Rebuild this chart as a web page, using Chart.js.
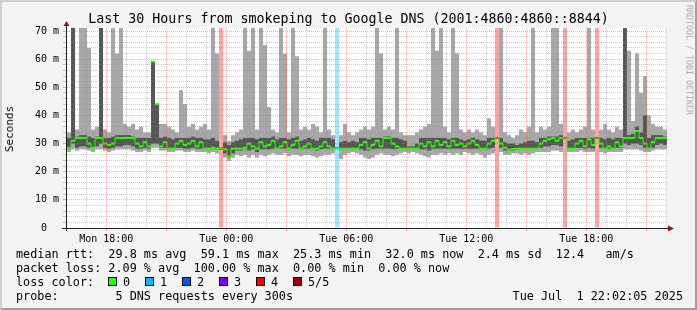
<!DOCTYPE html>
<html lang="en">
<head>
<meta charset="UTF-8">
<title>Last 30 Hours from smokeping to Google DNS</title>
<style>
  body { margin: 0; background: #f3f3f3; font-family: 'DejaVu Sans Mono', monospace; }
  #wrap { position: relative; width: 697px; height: 310px; overflow: hidden; }
  #frame { position: absolute; left: 0; top: 0; width: 697px; height: 310px; box-sizing: border-box;
           border: 2px solid; border-color: #cfcfcf #9e9e9e #9e9e9e #cfcfcf; pointer-events: none; }
  canvas { position: absolute; left: 0; top: 0; }
  .txt { position: absolute; white-space: pre; color: #000; }
  #title { left: 0; width: 697px; top: 11px; text-align: center; font-size: 13.3px; line-height: 16px; }
  #ylab { left: 10px; top: 129px; font-size: 11px; line-height: 12px; transform: translate(-50%, -50%) rotate(-90deg); }
  #credit { left: 689px; top: 60px; font-size: 8.3px; line-height: 9px; color: #a8a8a8; transform: translate(-50%, -50%) rotate(90deg); }
  .leg { font-size: 11.8px; line-height: 14px; }
  .box { position: absolute; width: 7px; height: 7px; border: 1px solid #000; top: 277px; }
</style>
</head>
<body>
<div id="wrap">
  <canvas id="chart" width="697" height="310"></canvas>
  <div id="title" class="txt">Last 30 Hours from smokeping to Google DNS (2001:4860:4860::8844)</div>
  <div id="ylab" class="txt">Seconds</div>
  <div id="credit" class="txt">RRDTOOL / TOBI OETIKER</div>
  <div class="txt leg" style="left:16px; top:247px">median rtt:  29.8 ms avg  59.1 ms max  25.3 ms min  32.0 ms now  2.4 ms sd  12.4   am/s</div>
  <div class="txt leg" style="left:16px; top:261px">packet loss: 2.09 % avg  100.00 % max  0.00 % min  0.00 % now</div>
  <div class="txt leg" style="left:16px; top:275px">loss color:</div>
  <div id="lossLegend"></div>
  <div class="txt leg" style="left:16px; top:289px">probe:        5 DNS requests every 300s</div>
  <div class="txt leg" style="right:14px; top:289px">Tue Jul  1 22:02:05 2025</div>
  <div id="frame"></div>
</div>

<script src="https://cdn.jsdelivr.net/npm/chart.js"></script>
<script>
// one slot = 12 minutes, 150 slots = 30 hours (Mon 16:02 .. Tue 22:02)
const slotHours = 0.2;

// 5 pings per slot, sorted: min, 2nd, median, 4th, max (ms)
const pMin = [
  27, 28, 27.5, 28, 28, 27.5, 27, 28, 28, 27.5,
  27, 27.5, 28, 28, 28, 28, 27.5, 27, 27, 27.5,
  27, 28.5, 28.5, 27.5, 27.5, 27, 27, 27.5, 27.5, 27,
  27, 27.5, 27, 27, 27, 26.5, 27, 26.5, null, 25,
  23.8, 25, 26, 25.5, 26, 25, 26, 25, 26, 25.5,
  26, 26.5, 26, 26, 26.5, 25.5, 26, 26, 25.5, 26,
  26, 25.5, 25, 25.5, 26, 26, 26.5, null, 24.5, 26,
  26.5, 27, 26.5, 26, 25, 24.5, 25, 26, 26.5, 26,
  26, 25.5, 26, 26.5, 27, 26.5, 27, 26.5, 26, 25.5,
  25, 26, 26, 26.5, 26, 26.5, 26, 26.5, 26, 27,
  26.5, 26, 26.5, 26, 25, 26, 26.5, null, 27, 26,
  26, 26.5, 26.5, 26, 26.5, 26, 26.5, 27, 27, 27,
  27, 27.5, 27.5, 27, null, 27, 27, 27, 27.5, 27,
  27, 27, null, 27, 26.5, 27, 27, 27, 27, 28,
  28, 28, 28, 27.5, 27, 27, 27.5, 28, 28, 28
];
const pLo = [
  28.2, 30, 28.5, 29, 29, 28.5, 28.2, 29, 30, 28.5,
  28.2, 28.5, 29, 29, 29.5, 29.5, 29, 28.2, 28.2, 28.5,
  28.2, 30, 30, 28.5, 28.5, 28.2, 28.2, 28.5, 28.5, 28.2,
  28.2, 28.5, 28.2, 28.2, 28.2, 28, 28.2, 28, null, 26.5,
  25, 26.5, 27.5, 27.5, 28, 27.5, 28, 27, 28, 28,
  28, 28.2, 28.2, 28.2, 28.2, 28, 28.2, 28.2, 28, 28.2,
  28.2, 28, 27.5, 28, 28.2, 28.2, 28.2, null, 28, 28.2,
  28.2, 28.2, 28.2, 28, 27.5, 27.5, 28, 28.2, 28.2, 28.2,
  28.2, 28, 28.2, 28.2, 28.2, 28.2, 28.2, 28, 28, 28,
  27.5, 28.2, 28.2, 28.2, 28.2, 28.2, 28.2, 28.2, 28.2, 28.2,
  28.2, 28.2, 28.2, 28, 28, 28.2, 28.5, null, 28.5, 27.5,
  27.5, 27.5, 28, 28, 28.2, 28.2, 28.2, 28.2, 28.5, 29,
  29, 29.5, 29.5, 29, null, 28, 28.2, 28.5, 28.5, 28.2,
  28.5, 28.2, null, 28.5, 28.2, 28.2, 28.2, 28.5, 28.5, 30,
  29.5, 30, 30, 29.5, 28.5, 28.2, 28.5, 29.5, 30, 29.5
];
const pMed = [
  28.5, 31, 32, 32, 32, 30, 28.5, 32, 32, 30,
  29.5, 30, 32, 32, 32, 32, 32, 30, 29, 30.5,
  29, 59.1, 44, 29, 30.5, 28.2, 28.2, 30, 31, 29.5,
  30, 31, 29, 30.5, 28.2, 28.2, 28.5, 28.2, 28.2, 28,
  25.3, 28.2, 28.2, 28.2, 28.5, 30, 29, 28.2, 30.5, 29,
  29.5, 31, 28.2, 29, 30.5, 28.2, 29.5, 31, 28.2, 29,
  30, 28.2, 28.2, 29, 30.5, 29, 28.2, 28.5, 28.2, 28.2,
  28.2, 28.2, 28.2, 29.5, 30.5, 28.2, 29.5, 31, 29, 32,
  32, 30, 29, 28.2, 28.2, 28.2, 28.2, 28.2, 30, 29,
  30.5, 29, 31, 29.5, 30.5, 29, 31, 29.5, 30, 29,
  30, 31, 29.5, 28.2, 28.2, 30, 31, 32, 30, 28.5,
  27.8, 28, 28.2, 28.2, 28.2, 28.2, 28.2, 28.2, 30, 31,
  31.5, 32, 31, 32, 32, 28.2, 28.2, 30, 31, 29,
  31.5, 29.5, 32, 30, 28.2, 29, 28.2, 30.5, 29, 32,
  32, 32, 34.5, 32, 30, 28.2, 30.5, 32, 32, 32
];
const pHi = [
  32, 72, 32.5, 33, 33, 32.5, 32, 32.5, 72, 32,
  32, 32.5, 33, 33, 33, 33, 32.5, 32, 32, 32,
  32, 59.1, 44, 32, 32.5, 32, 31.5, 32, 32, 32,
  32, 32.5, 32, 32, 31.5, 31.5, 32, 31, null, 30.5,
  29.5, 30.5, 31, 31.5, 32, 32, 32, 31.5, 32, 32,
  32, 32.5, 31.5, 32, 32, 31.5, 32, 32.5, 31, 31.5,
  32, 31.5, 31, 32, 32, 32, 31.5, null, 30.5, 31,
  30.5, 31, 30.5, 32, 32, 31.5, 32, 32, 32, 32.5,
  32.5, 32, 32, 31.5, 31, 29, 29, 30, 32, 32,
  32, 32, 32, 32, 32, 31.5, 32, 32, 31.5, 31,
  31.5, 32, 31.5, 31, 31, 32, 32, null, 32, 30.5,
  30, 30, 29.5, 30, 30.5, 31, 31, 30.5, 32, 32,
  32.5, 32.5, 32.5, 33, null, 31, 31.5, 32, 32, 32,
  32, 32, null, 32, 31.5, 32, 31.5, 32, 32, 72,
  33, 33.5, 36, 34, 40, 32, 33, 33, 33, 32.5
];
const pMax = [
  34, 72, 35, 72, 72, 64, 35, 36, 72, 35,
  34, 72, 62, 72, 37, 36, 37, 35, 36, 34,
  34, 59.1, 44, 37, 37, 36, 35, 34, 49, 44,
  36, 37, 35, 36, 37, 35, 72, 62, null, 33,
  31, 33, 34, 35, 72, 63, 72, 35, 72, 65,
  43, 35, 34, 72, 62, 34, 72, 61, 35, 36,
  35, 37, 36, 34, 72, 35, 33, null, 33, 37,
  34, 33, 34, 35, 36, 35, 36, 72, 62, 35,
  36, 35, 72, 34, 33, 33, 33, 34, 35, 36,
  37, 72, 63, 72, 36, 34, 72, 62, 35, 34,
  35, 34, 35, 34, 33, 39, 36, null, 72, 34,
  33, 32, 33, 35, 34, 36, 72, 34, 36, 35,
  36, 72, 72, 37, null, 34, 35, 34, 35, 36,
  72, 35, null, 35, 37, 35, 34, 36, 35, 72,
  63, 38, 62, 48, 54, 40, 37, 36, 36, 35
];
// lost pings per slot (of 5)
const loss = [
  0, 0, 0, 0, 0, 0, 0, 0, 0, 0,
  0, 0, 0, 0, 0, 0, 0, 0, 0, 0,
  0, 0, 0, 0, 0, 0, 0, 0, 0, 0,
  0, 0, 0, 0, 0, 0, 0, 0, 4, 0,
  0, 0, 0, 0, 0, 0, 0, 0, 0, 0,
  0, 0, 0, 0, 0, 0, 0, 0, 0, 0,
  0, 0, 0, 0, 0, 0, 0, 1, 0, 0,
  0, 0, 0, 0, 0, 0, 0, 0, 0, 0,
  0, 0, 0, 0, 0, 0, 0, 0, 0, 0,
  0, 0, 0, 0, 0, 0, 0, 0, 0, 0,
  0, 0, 0, 0, 0, 0, 0, 4, 0, 0,
  0, 0, 0, 0, 0, 0, 0, 0, 0, 0,
  0, 0, 0, 0, 4, 0, 0, 0, 0, 0,
  0, 0, 4, 0, 0, 0, 0, 0, 0, 0,
  0, 0, 0, 0, 0, 0, 0, 0, 0, 0
];

const lossColors = ['#26ff00', '#00b8ff', '#0059ff', '#7e00ff', '#ff0000', '#a00000'];
const lossLabels = ['0', '1', '2', '3', '4', '5/5'];

const yTickLabels = ['0  ', '10 m', '20 m', '30 m', '40 m', '50 m', '60 m', '70 m'];
const xTickLabels = ['Mon 18:00', 'Tue 00:00', 'Tue 06:00', 'Tue 12:00', 'Tue 18:00'];
const xLabelHourIdx = [1, 7, 13, 19, 25];   // hour ticks counted from Mon 17:00
const firstHour = 57.9 / 60;                // Mon 17:00 is 57m55s after the start

// legend boxes
const lossLegend = document.getElementById('lossLegend');
lossLabels.forEach((lab, i) => {
  const b = document.createElement('div');
  b.className = 'box';
  b.style.left = (108 + 37 * i) + 'px';
  b.style.background = lossColors[i];
  lossLegend.appendChild(b);
  const t = document.createElement('div');
  t.className = 'txt leg';
  t.style.left = (123 + 37 * i) + 'px';
  t.style.top = '275px';
  t.textContent = lab;
  lossLegend.appendChild(t);
});

function fade(hex, a) {
  const n = parseInt(hex.slice(1), 16);
  return `rgba(${n >> 16}, ${(n >> 8) & 255}, ${n & 255}, ${a})`;
}

const slots = pMed.map((_, i) => (i + 0.5) * slotHours);
const gridMinor = 'rgba(143,143,143,0.46)';
const gridMajor = 'rgba(222,80,80,0.46)';
const medHalf = 0.36;   // median drawn as a 2px band, like smokeping

// white canvas behind the plot, axis lines and arrows on top
const rrdFrame = {
  id: 'rrdFrame',
  beforeDraw(chart) {
    const { ctx, chartArea: a } = chart;
    ctx.save();
    ctx.fillStyle = '#ffffff';
    ctx.fillRect(a.left, a.top, a.right - a.left, a.bottom - a.top);
    ctx.restore();
  },
  afterDraw(chart) {
    const { ctx, chartArea: a } = chart;
    ctx.save();
    ctx.strokeStyle = '#202020';
    ctx.lineWidth = 1;
    ctx.beginPath();
    ctx.moveTo(a.left - 5, a.bottom + 0.5);
    ctx.lineTo(a.right + 2, a.bottom + 0.5);
    ctx.moveTo(a.left - 0.5, a.bottom + 3);
    ctx.lineTo(a.left - 0.5, a.top - 3);
    ctx.stroke();
    ctx.fillStyle = '#7f1f1f';
    ctx.beginPath();
    ctx.moveTo(a.right + 7, a.bottom + 0.5);
    ctx.lineTo(a.right + 1, a.bottom - 2.5);
    ctx.lineTo(a.right + 1, a.bottom + 3.5);
    ctx.fill();
    ctx.beginPath();
    ctx.moveTo(a.left - 0.5, a.top - 7);
    ctx.lineTo(a.left - 3.5, a.top - 2);
    ctx.lineTo(a.left + 2.5, a.top - 2);
    ctx.fill();
    ctx.restore();
  }
};

Chart.defaults.font.family = "'DejaVu Sans Mono', monospace";
Chart.defaults.color = '#000';

new Chart(document.getElementById('chart'), {
  type: 'bar',
  data: {
    datasets: [
      {
        type: 'line',
        label: 'median steps',
        data: slots.map((x, i) => ({ x, y: pMed[i] })),
        borderColor: lossColors[0],
        borderWidth: 1,
        stepped: 'middle',
        pointRadius: 0,
        // big jumps (the 59 ms spike) are left to the smoke, no green riser
        segment: {
          borderColor: s => (Math.abs(s.p1.parsed.y - s.p0.parsed.y) > 5 ? 'rgba(0,0,0,0)' : undefined)
        }
      },
      {
        label: 'median rtt',
        data: slots.map((x, i) => ({ x, y: [pMed[i] - medHalf, pMed[i] + medHalf] })),
        backgroundColor: c => lossColors[loss[c.dataIndex]]
      },
      {
        label: 'inner pings',
        data: slots.map((x, i) => ({ x, y: pLo[i] === null ? null : [pLo[i], pHi[i]] })),
        backgroundColor: '#555555'
      },
      {
        label: 'all pings',
        data: slots.map((x, i) => ({ x, y: pMin[i] === null ? null : [pMin[i], pMax[i]] })),
        backgroundColor: '#a8a8a8'
      },
      {
        label: 'loss',
        data: slots.map((x, i) => ({ x, y: loss[i] ? [0, 72] : null })),
        backgroundColor: c => fade(lossColors[loss[c.dataIndex]] || '#000000', 0.36)
      }
    ]
  },
  options: {
    responsive: false,
    animation: false,
    devicePixelRatio: 1,
    layout: { padding: { left: 0, right: 30, top: 28, bottom: 62 } },
    datasets: { bar: { barThickness: 4, grouped: false, borderWidth: 0, inflateAmount: 0 } },
    plugins: { legend: { display: false }, tooltip: { enabled: false }, title: { display: false } },
    scales: {
      x: {
        type: 'linear',
        offset: false,
        min: 0,
        max: 30,
        afterFit: s => { s.height = 20; },
        afterBuildTicks: s => { s.ticks = slots.slice(0, 30).map((_, k) => ({ value: firstHour + k })); },
        ticks: {
          autoSkip: false,
          maxRotation: 0,
          padding: 2,
          font: { size: 10 },
          callback: (v, i) => {
            const j = xLabelHourIdx.indexOf(i);
            return j < 0 ? '' : xTickLabels[j];
          }
        },
        grid: {
          z: 1,
          offset: false,
          lineWidth: 1,
          tickLength: 3,
          color: c => (c.index % 3 === 1 ? gridMajor : gridMinor),
          tickColor: c => (c.index % 3 === 1 ? gridMajor : 'rgba(0,0,0,0)')
        },
        border: { display: false, dash: [1, 1] }
      },
      y: {
        min: 0,
        max: 71.07,
        afterFit: s => { s.width = 67; },
        afterBuildTicks: s => {
          const t = [];
          for (let v = 0; v <= 70; v += 2) t.push({ value: v });
          s.ticks = t;
        },
        ticks: {
          autoSkip: false,
          padding: 4,
          font: { size: 10 },
          callback: v => (v % 10 === 0 ? yTickLabels[v / 10] : '')
        },
        grid: {
          z: 1,
          lineWidth: 1,
          tickLength: 4,
          color: c => (c.tick && c.tick.value % 10 === 0 ? gridMajor : gridMinor),
          tickColor: c => (c.tick && c.tick.value % 10 === 0 ? gridMajor : gridMinor)
        },
        border: { display: false, dash: [1, 1] }
      }
    }
  },
  plugins: [rrdFrame]
});
</script>
</body>
</html>
